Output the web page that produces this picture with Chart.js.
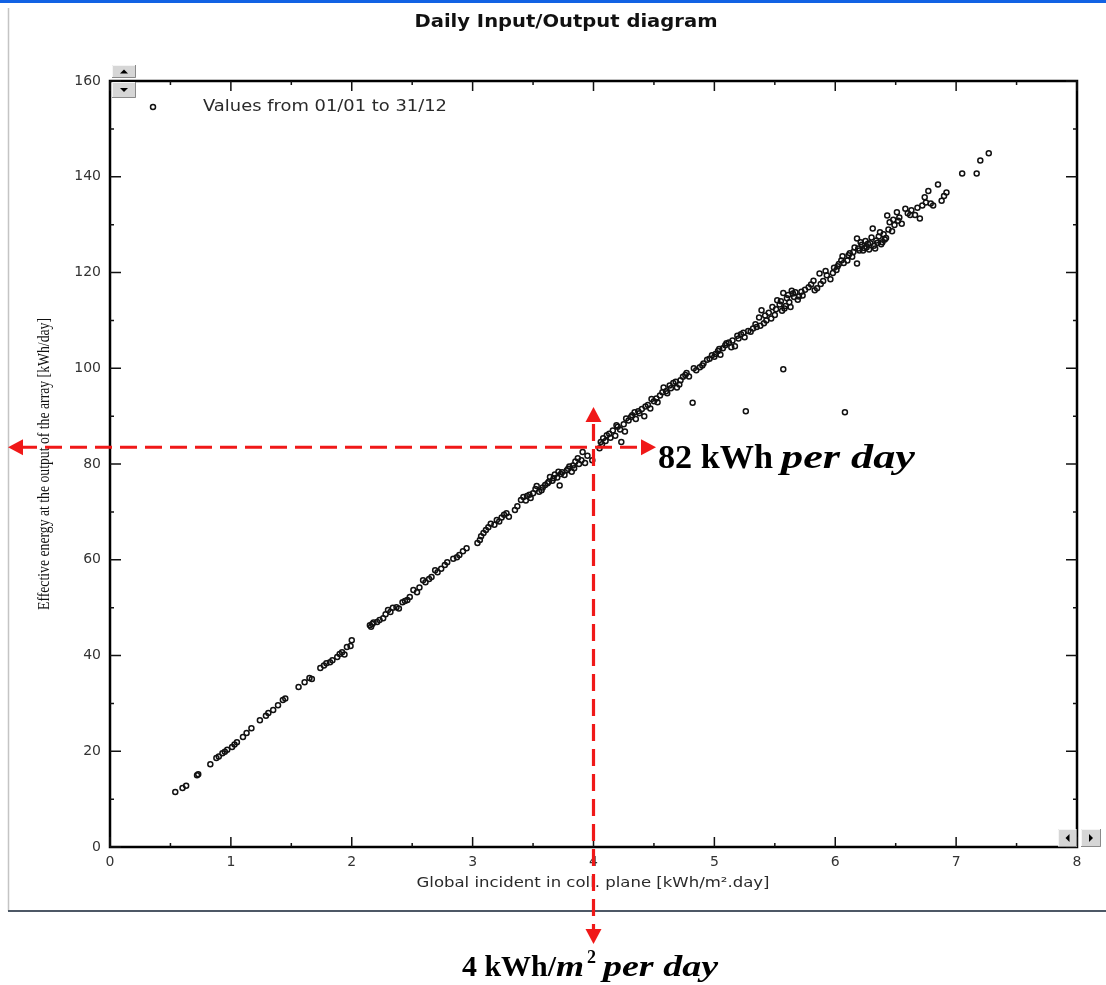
<!DOCTYPE html>
<html>
<head>
<meta charset="utf-8">
<title>Daily Input/Output diagram</title>
<script src="https://cdn.jsdelivr.net/npm/chart.js@4/dist/chart.umd.min.js"></script>
<style>
  html, body { margin: 0; padding: 0; background: #fff; }
  canvas { display: block; }
</style>
</head>
<body>
<canvas id="chart" width="1106" height="985"></canvas>
<script>
// Global incident in coll. plane [kWh/m2.day]
const incident = [
  0.54, 0.60, 0.63, 0.72, 0.73, 0.83, 0.88, 0.90, 0.93, 0.95,
  0.97, 1.01, 1.03, 1.05, 1.10, 1.13, 1.17, 1.24, 1.29, 1.31,
  1.35, 1.39, 1.43, 1.45, 1.56, 1.61, 1.65, 1.67, 1.74, 1.77,
  1.79, 1.82, 1.84, 1.88, 1.90, 1.92, 1.94, 1.96, 1.99, 2.00,
  2.15, 2.17, 2.16, 2.21, 2.26, 2.28, 2.32, 2.34, 2.37, 2.39,
  2.42, 2.46, 2.48, 2.51, 2.54, 2.59, 2.61, 2.64, 2.69, 2.71,
  2.77, 2.79, 2.84, 2.87, 2.92, 2.95, 3.04, 3.06, 3.07, 3.13,
  3.15, 3.18, 3.20, 3.24, 3.28, 3.30, 3.35, 3.40, 3.42, 3.44,
  3.47, 3.50, 3.52, 3.55, 3.57, 3.60, 3.62, 3.64, 3.66, 3.68,
  3.70, 3.72, 3.74, 3.76, 3.78, 3.80, 3.82, 3.83, 3.85, 3.88,
  3.90, 3.91, 3.95, 3.99, 4.05, 4.06, 4.08, 4.10, 4.13, 4.16,
  4.18, 4.20, 4.23, 4.25, 4.27, 4.29, 4.32, 4.35, 4.38, 4.40,
  4.42, 4.45, 4.47, 4.50, 4.52, 4.55, 4.58, 4.60, 4.61, 4.64,
  4.66, 4.69, 4.72, 4.74, 4.77, 4.79, 4.82, 4.85, 4.88, 4.91,
  4.94, 4.98, 5.01, 5.03, 5.05, 5.07, 5.09, 5.12, 5.15, 5.17,
  5.20, 5.22, 5.25, 5.26, 5.28, 5.32, 5.35, 5.37, 5.39, 5.41,
  5.43, 5.45, 5.48, 5.50, 5.52, 5.54, 5.56, 5.57, 5.57, 5.58,
  5.60, 5.62, 5.64, 5.66, 5.67, 5.70, 5.73, 5.75, 5.80, 5.83,
  5.85, 5.87, 5.90, 5.93, 5.96, 5.99, 6.01, 6.03, 6.05, 6.06,
  6.08, 6.10, 6.12, 6.14, 6.16, 6.18, 6.18, 6.20, 6.22, 6.23,
  6.25, 6.26, 6.28, 6.29, 6.31, 6.32, 6.34, 6.36, 6.38, 6.39,
  6.40, 6.42, 6.43, 6.45, 6.47, 6.49, 6.51, 6.53, 6.55, 6.60,
  6.63, 6.66, 6.70, 6.72, 6.75, 6.77, 6.79, 6.81, 6.85, 6.88,
  6.90, 6.92, 7.05, 7.17, 7.20, 7.27,
  2.18, 2.23, 2.30, 2.44, 2.56, 2.66, 2.74, 2.89, 3.09, 3.11,
  3.22, 3.26, 3.37, 3.45, 3.48, 3.53, 3.58, 3.63, 3.67, 3.71,
  3.73, 3.79, 3.84, 3.87, 3.93, 4.07, 4.11, 4.14, 4.19, 4.22,
  4.26, 4.31, 4.34, 4.37, 4.43, 4.48, 4.53, 4.57, 4.63, 4.68,
  4.71, 4.76, 4.83, 4.90, 4.96, 5.00, 5.04, 5.10, 5.14, 5.19,
  5.24, 5.30, 5.34, 5.38, 5.42, 5.47, 5.51, 5.55, 5.59, 5.61,
  5.63, 5.65, 5.69, 5.72, 5.78, 5.82, 5.88, 5.92, 5.98, 6.02,
  6.07, 6.11, 6.15, 6.19, 6.21, 6.24, 6.27, 6.30, 6.33, 6.35,
  6.37, 6.41, 6.44, 6.48, 6.52, 6.58, 6.62, 6.68, 6.74
]

// Effective energy at the output of the array [kWh/day]
const energy = [
  11.5, 12.3, 12.8, 15.0, 15.2, 17.3, 18.6, 18.9, 19.6, 19.9,
  20.3, 20.9, 21.4, 21.9, 23.0, 23.8, 24.8, 26.5, 27.4, 28.0,
  28.6, 29.6, 30.7, 31.0, 33.4, 34.4, 35.3, 35.1, 37.4, 37.9,
  38.4, 38.6, 39.0, 39.7, 40.3, 40.7, 40.2, 41.8, 42.0, 43.2,
  46.3, 46.6, 46.0, 47.0, 47.8, 48.6, 49.1, 50.0, 50.1, 49.8,
  51.1, 51.6, 52.2, 53.7, 53.2, 55.7, 55.3, 56.0, 57.8, 57.4,
  58.9, 59.5, 60.2, 60.5, 61.8, 62.4, 63.5, 64.1, 64.9, 66.8,
  67.5, 67.3, 68.3, 68.8, 69.7, 69.0, 70.4, 72.5, 73.1, 72.4,
  73.6, 73.9, 74.8, 74.2, 74.5, 75.6, 76.0, 77.3, 76.5, 77.8,
  77.2, 75.5, 78.3, 77.7, 78.7, 79.5, 78.4, 79.7, 80.5, 80.0,
  80.8, 82.5, 81.7, 80.8, 83.3, 84.6, 85.4, 84.8, 86.3, 87.0,
  85.9, 87.8, 84.6, 88.3, 89.5, 89.1, 90.2, 89.4, 90.6, 91.5,
  90.0, 92.3, 91.6, 93.1, 93.7, 94.3, 96.0, 95.2, 94.8, 95.8,
  96.9, 96.0, 97.5, 98.2, 99.0, 98.3, 92.8, 99.6, 100.2, 101.0,
  101.8, 102.7, 103.0, 103.6, 102.8, 104.2, 104.8, 105.4, 105.8, 104.6,
  106.2, 107.1, 106.5, 91.0, 107.8, 108.3, 108.6, 110.6, 112.1, 109.4,
  110.0, 111.6, 112.8, 111.1, 114.2, 113.3, 112.0, 115.7, 99.8, 112.5,
  114.6, 113.8, 116.2, 114.9, 115.9, 115.0, 115.2, 116.4, 117.5, 116.3,
  116.7, 119.8, 118.2, 119.4, 118.6, 121.0, 120.5, 121.8, 122.5, 123.4,
  90.8, 122.5, 124.0, 123.3, 125.2, 121.9, 127.1, 124.6, 125.8, 124.6,
  126.6, 125.3, 124.8, 126.1, 129.2, 125.6, 126.7, 127.5, 125.9, 126.3,
  128.0, 127.2, 131.9, 130.5, 128.6, 129.9, 132.6, 131.5, 130.2, 132.4,
  133.0, 132.0, 131.3, 134.0, 134.6, 137.0, 134.4, 134.0, 138.4, 135.0,
  136.0, 136.7, 140.7, 140.7, 143.4, 144.9,
  46.9, 47.4, 49.5, 51.4, 54.2, 56.4, 58.1, 61.0, 65.6, 66.2,
  68.0, 69.4, 71.2, 73.3, 72.9, 75.4, 75.1, 76.3, 77.0, 78.4,
  77.9, 79.0, 79.1, 81.2, 80.2, 84.1, 86.0, 85.5, 88.1, 87.2,
  86.8, 89.8, 90.8, 91.0, 92.0, 93.6, 92.9, 95.0, 96.4, 97.2,
  96.6, 98.6, 100.0, 100.6, 102.0, 102.4, 104.0, 105.2, 104.4, 106.8,
  107.4, 107.6, 109.2, 108.9, 111.0, 110.4, 112.3, 114.0, 113.0, 115.3,
  112.8, 115.6, 114.3, 116.0, 116.9, 118.3, 117.6, 120.3, 119.9, 121.3,
  122.0, 123.6, 124.3, 125.0, 126.3, 125.1, 126.0, 127.3, 125.0, 126.2,
  128.4, 126.9, 129.0, 131.0, 130.8, 133.3, 132.0, 133.5, 135.7
]

const xTicks = [0, 1, 2, 3, 4, 5, 6, 7, 8]
const yTicks = [0, 20, 40, 60, 80, 100, 120, 140, 160]

// reading marked on the chart
const markX = 4
const markY = 83.5

const points = incident.map((x, i) => ({ x: x, y: energy[i] }))

// draws text squeezed or stretched to a given width
function fitText(ctx, text, x, y, font, width, align) {
  ctx.font = font
  const k = width / ctx.measureText(text).width
  ctx.save()
  ctx.translate(x, y)
  ctx.scale(k, 1)
  ctx.textAlign = align || 'left'
  ctx.fillText(text, 0, 0)
  ctx.restore()
}

function button(ctx, x, y, w, h, dir) {
  ctx.fillStyle = '#d6d6d6'
  ctx.fillRect(x, y, w, h)
  ctx.strokeStyle = '#f5f5f5'
  ctx.lineWidth = 1
  ctx.beginPath()
  ctx.moveTo(x + 0.5, y + h)
  ctx.lineTo(x + 0.5, y + 0.5)
  ctx.lineTo(x + w, y + 0.5)
  ctx.stroke()
  ctx.strokeStyle = '#8a8a8a'
  ctx.beginPath()
  ctx.moveTo(x + w - 0.5, y)
  ctx.lineTo(x + w - 0.5, y + h - 0.5)
  ctx.lineTo(x, y + h - 0.5)
  ctx.stroke()
  const cx = x + w / 2
  const cy = y + h / 2
  ctx.fillStyle = '#000'
  ctx.beginPath()
  if (dir === 'up') {
    ctx.moveTo(cx - 4, cy + 2); ctx.lineTo(cx + 4, cy + 2); ctx.lineTo(cx, cy - 2)
  } else if (dir === 'down') {
    ctx.moveTo(cx - 4, cy - 2); ctx.lineTo(cx + 4, cy - 2); ctx.lineTo(cx, cy + 2)
  } else if (dir === 'left') {
    ctx.moveTo(cx + 2, cy - 4); ctx.lineTo(cx + 2, cy + 4); ctx.lineTo(cx - 2, cy)
  } else {
    ctx.moveTo(cx - 2, cy - 4); ctx.lineTo(cx - 2, cy + 4); ctx.lineTo(cx + 2, cy)
  }
  ctx.closePath()
  ctx.fill()
}

function arrowHead(ctx, tipX, tipY, dx, dy) {
  // dx, dy: unit direction the arrow points to
  const len = 15
  const half = 8
  const bx = tipX - dx * len
  const by = tipY - dy * len
  ctx.beginPath()
  ctx.moveTo(tipX, tipY)
  ctx.lineTo(bx - dy * half, by + dx * half)
  ctx.lineTo(bx + dy * half, by - dx * half)
  ctx.closePath()
  ctx.fill()
}

const decor = {
  id: 'decor',
  beforeDraw(chart) {
    const ctx = chart.ctx
    ctx.save()
    ctx.fillStyle = '#fff'
    ctx.fillRect(0, 0, chart.width, chart.height)
    ctx.restore()
  },
  afterDraw(chart) {
    const ctx = chart.ctx
    const a = chart.chartArea
    const sx = chart.scales.x
    const sy = chart.scales.y
    ctx.save()

    // window frame
    ctx.fillStyle = '#1262e4'
    ctx.fillRect(0, 0, chart.width, 3)
    ctx.strokeStyle = '#c4c4c4'
    ctx.lineWidth = 1.5
    ctx.beginPath()
    ctx.moveTo(8.5, 8)
    ctx.lineTo(8.5, 911)
    ctx.stroke()
    ctx.strokeStyle = '#4d5866'
    ctx.lineWidth = 2
    ctx.beginPath()
    ctx.moveTo(8, 911)
    ctx.lineTo(chart.width, 911)
    ctx.stroke()

    // title
    ctx.fillStyle = '#111'
    ctx.textBaseline = 'alphabetic'
    fitText(ctx, 'Daily Input/Output diagram', 566, 27, 'bold 18px "DejaVu Sans"', 303, 'center')

    // plot box
    ctx.strokeStyle = '#000'
    ctx.lineWidth = 2.5
    ctx.strokeRect(a.left, a.top, a.right - a.left, a.bottom - a.top)

    // inward ticks on all four sides
    ctx.lineWidth = 1.5
    ctx.strokeStyle = '#111'
    ctx.beginPath()
    xTicks.forEach((v, i) => {
      const px = sx.getPixelForValue(v)
      ctx.moveTo(px, a.bottom); ctx.lineTo(px, a.bottom - 10)
      ctx.moveTo(px, a.top); ctx.lineTo(px, a.top + 10)
      if (i < xTicks.length - 1) {
        const mx = sx.getPixelForValue((v + xTicks[i + 1]) / 2)
        ctx.moveTo(mx, a.bottom); ctx.lineTo(mx, a.bottom - 4)
        ctx.moveTo(mx, a.top); ctx.lineTo(mx, a.top + 4)
      }
    })
    yTicks.forEach((v, i) => {
      const py = sy.getPixelForValue(v)
      ctx.moveTo(a.left, py); ctx.lineTo(a.left + 11, py)
      ctx.moveTo(a.right, py); ctx.lineTo(a.right - 11, py)
      if (i < yTicks.length - 1) {
        const my = sy.getPixelForValue((v + yTicks[i + 1]) / 2)
        ctx.moveTo(a.left, my); ctx.lineTo(a.left + 4, my)
        ctx.moveTo(a.right, my); ctx.lineTo(a.right - 4, my)
      }
    })
    ctx.stroke()

    // legend
    ctx.strokeStyle = '#111'
    ctx.lineWidth = 1.5
    ctx.beginPath()
    ctx.arc(153, 107, 2.5, 0, Math.PI * 2)
    ctx.stroke()
    ctx.fillStyle = '#2a2a2a'
    ctx.textBaseline = 'middle'
    fitText(ctx, 'Values from 01/01 to 31/12', 203, 107, '15px "DejaVu Sans"', 244)

    // axis titles
    fitText(ctx, 'Global incident in coll. plane [kWh/m\u00b2.day]', 593, 883, '14px "DejaVu Sans"', 353, 'center')
    ctx.save()
    ctx.translate(45, 464)
    ctx.rotate(-Math.PI / 2)
    ctx.fillStyle = '#111'
    fitText(ctx, 'Effective energy at the output of the array [kWh/day]', 0, 0, '16px "Liberation Serif"', 292, 'center')
    ctx.restore()

    // scroll buttons
    button(ctx, 112, 65, 24, 13, 'up')
    button(ctx, 112, 82, 24, 16, 'down')
    button(ctx, 1058, 829, 19, 18, 'left')
    button(ctx, 1081, 829, 20, 18, 'right')

    // red reading lines
    const px = sx.getPixelForValue(markX)
    const py = sy.getPixelForValue(markY)
    ctx.strokeStyle = '#f01818'
    ctx.fillStyle = '#f01818'
    ctx.lineWidth = 3.2
    ctx.setLineDash([17, 8])
    ctx.beginPath()
    ctx.moveTo(20, py); ctx.lineTo(642, py)
    ctx.moveTo(px, 424); ctx.lineTo(px, 931)
    ctx.stroke()
    ctx.setLineDash([])
    arrowHead(ctx, 8, py, -1, 0)
    arrowHead(ctx, 656, py, 1, 0)
    arrowHead(ctx, px, 407, 0, -1)
    arrowHead(ctx, px, 944, 0, 1)

    // reading labels
    ctx.fillStyle = '#000'
    ctx.textBaseline = 'alphabetic'
    fitText(ctx, '82 kWh', 658, 468, 'bold 34px "Liberation Serif"', 115)
    fitText(ctx, 'per day', 781, 468, 'bold italic 34px "Liberation Serif"', 134)
    fitText(ctx, '4 kWh/', 462, 976, 'bold 30px "Liberation Serif"', 94)
    fitText(ctx, 'm', 556, 976, 'bold italic 30px "Liberation Serif"', 28)
    fitText(ctx, '2', 587, 963, 'bold 18px "Liberation Serif"', 9)
    fitText(ctx, 'per day', 603, 976, 'bold italic 30px "Liberation Serif"', 115)

    ctx.restore()
  }
}

const tickFont = { family: '"DejaVu Sans", sans-serif', size: 14 }

new Chart(document.getElementById('chart').getContext('2d'), {
  type: 'scatter',
  data: {
    datasets: [{
      label: 'Values from 01/01 to 31/12',
      data: points,
      pointStyle: 'circle',
      pointRadius: 2.5,
      pointBorderWidth: 1.5,
      borderColor: '#111',
      backgroundColor: 'rgba(255,255,255,0)',
    }],
  },
  options: {
    responsive: false,
    animation: false,
    devicePixelRatio: 1,
    layout: { padding: { left: 0, top: 81, right: 29, bottom: 0 } },
    plugins: {
      legend: { display: false },
      tooltip: { enabled: false },
    },
    scales: {
      x: {
        type: 'linear',
        min: 0,
        max: 8,
        afterFit: (s) => { s.height = 138 },
        afterBuildTicks: (s) => { s.ticks = xTicks.map((v) => ({ value: v })) },
        grid: { display: false, drawTicks: false },
        border: { display: false },
        ticks: { padding: 7, color: '#333', font: tickFont, autoSkip: false, maxRotation: 0 },
      },
      y: {
        type: 'linear',
        min: 0,
        max: 160,
        afterFit: (s) => { s.width = 110 },
        afterBuildTicks: (s) => { s.ticks = yTicks.map((v) => ({ value: v })) },
        grid: { display: false, drawTicks: false },
        border: { display: false },
        ticks: { padding: 9, color: '#333', font: tickFont, autoSkip: false },
      },
    },
  },
  plugins: [decor],
})
</script>
</body>
</html>
